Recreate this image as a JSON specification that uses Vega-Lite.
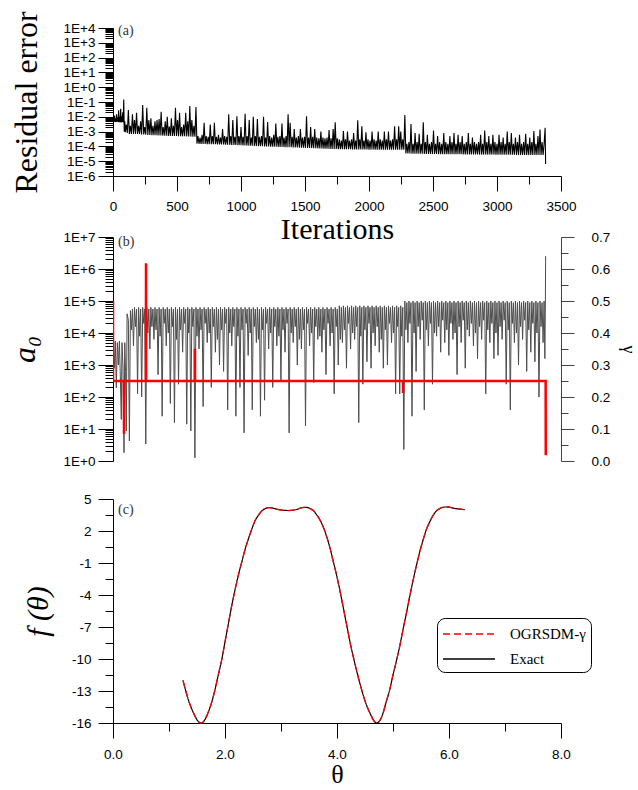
{
"$schema":"https://vega.github.io/schema/vega-lite/v6.json",
"padding":{"left":8,"top":10,"right":6,"bottom":2},
"background":"white",
"config":{"view":{"stroke":null},
"axis":{"grid":false,"labelFont":"Liberation Sans","labelFontSize":13.5,"labelColor":"black","titleFont":"Liberation Serif","titleFontWeight":"normal","titleColor":"black","domainColor":"black","tickColor":"black","labelOverlap":false,"labelFlush":false},
"title":{"font":"Liberation Serif","fontSize":14,"fontWeight":"normal","color":"#333","anchor":"start","orient":"top","frame":"group"}},
"spacing":38,"bounds":"flush",
"vconcat":[
{"width":448,"height":171,
"title":{"text":"(a)","offset":-27,"dx":5},
"data":{"values":[
{"i":0,"r":1e4},{"i":4,"r":1e-2},{"i":8,"r":4.6e-3},{"i":12,"r":1.2e-2},{"i":16,"r":4.5e-3},{"i":20,"r":8e-3},{"i":24,"r":4.4e-3},{"i":28,"r":1.5e-2},{"i":32,"r":4.6e-3},{"i":36,"r":9e-3},{"i":40,"r":4.5e-3},{"i":44,"r":2.8e-2},{"i":48,"r":4.3e-3},{"i":52,"r":1e-2},{"i":56,"r":4.4e-3},{"i":60,"r":3.5e-2},{"i":64,"r":4.2e-3},{"i":68,"r":1.1e-2},{"i":72,"r":4.4e-3},{"i":76,"r":2e-2},{"i":80,"r":4.2e-3},{"i":84,"r":1.5e-1},{"i":88,"r":1e-3},{"i":92,"r":5e-3},{"i":96,"r":9e-4},
{"i":104,"r":3e-3},{"i":112,"r":8e-4},{"i":120,"r":2.9e-2},{"i":128,"r":7e-4},{"i":136,"r":2.5e-3},{"i":144,"r":7e-4},{"i":152,"r":1.5e-2},{"i":160,"r":7e-4},{"i":168,"r":6e-3},{"i":176,"r":7e-4},{"i":184,"r":1.9e-2},{"i":192,"r":7e-4},{"i":200,"r":2.5e-3},{"i":208,"r":6.8e-4},{"i":216,"r":5e-3},{"i":224,"r":6.5e-4},{"i":232,"r":6.3e-2},{"i":240,"r":6.5e-4},{"i":248,"r":2e-3},{"i":256,"r":6.3e-4},{"i":264,"r":4e-2},{"i":272,"r":6e-4},{"i":280,"r":6e-3},{"i":288,"r":6e-4},{"i":296,"r":8e-3},{"i":304,"r":5.8e-4},{"i":312,"r":2.5e-3},{"i":320,"r":5.7e-4},{"i":328,"r":5e-3},{"i":336,"r":5.6e-4},{"i":344,"r":6e-3},{"i":352,"r":5.5e-4},{"i":360,"r":7e-3},{"i":368,"r":5.5e-4},{"i":376,"r":2.2e-2},{"i":384,"r":5.4e-4},{"i":392,"r":2e-3},{"i":400,"r":5.3e-4},{"i":408,"r":5e-3},{"i":416,"r":5.2e-4},{"i":424,"r":1e-2},{"i":432,"r":5.1e-4},{"i":440,"r":2.2e-3},{"i":448,"r":5e-4},{"i":456,"r":8e-3},{"i":464,"r":5e-4},{"i":472,"r":2.5e-3},{"i":480,"r":5e-4},{"i":488,"r":4e-2},{"i":496,"r":5e-4},{"i":504,"r":6e-3},{"i":512,"r":4.9e-4},{"i":520,"r":1.9e-2},{"i":528,"r":4.9e-4},{"i":536,"r":2e-3},{"i":544,"r":4.8e-4},{"i":552,"r":3e-3},{"i":560,"r":4.8e-4},{"i":568,"r":1.9e-2},{"i":576,"r":4.7e-4},{"i":584,"r":5e-3},{"i":592,"r":4.7e-4},{"i":600,"r":5.4e-2},{"i":608,"r":4.6e-4},{"i":616,"r":6e-3},{"i":624,"r":4.6e-4},{"i":632,"r":2.5e-3},{"i":640,"r":4.5e-4},{"i":648,"r":4.6e-2},{"i":656,"r":1.5e-4},
{"i":664,"r":5e-4},{"i":672,"r":1.5e-4},{"i":680,"r":4e-4},{"i":688,"r":1.48e-4},{"i":696,"r":6e-4},{"i":704,"r":1.46e-4},{"i":712,"r":4e-3},{"i":720,"r":1.45e-4},{"i":728,"r":5e-4},{"i":736,"r":1.44e-4},{"i":744,"r":4.5e-4},{"i":752,"r":1.43e-4},{"i":760,"r":3e-3},{"i":768,"r":1.42e-4},{"i":776,"r":5e-4},{"i":784,"r":1.41e-4},{"i":792,"r":4e-3},{"i":800,"r":1.4e-4},{"i":808,"r":4.5e-4},{"i":816,"r":1.38e-4},{"i":824,"r":6e-4},{"i":832,"r":1.36e-4},{"i":840,"r":4e-4},{"i":848,"r":1.35e-4},{"i":856,"r":1.5e-3},{"i":864,"r":1.33e-4},{"i":872,"r":5e-4},{"i":880,"r":1.32e-4},{"i":888,"r":4.5e-4},{"i":896,"r":1.3e-4},{"i":904,"r":1.5e-2},{"i":912,"r":1.28e-4},{"i":920,"r":5e-4},{"i":928,"r":1.27e-4},{"i":936,"r":6e-3},{"i":944,"r":1.25e-4},{"i":952,"r":4.5e-4},{"i":960,"r":1.24e-4},{"i":968,"r":1.1e-2},{"i":976,"r":1.22e-4},{"i":984,"r":5e-4},{"i":992,"r":1.2e-4},{"i":1000,"r":2e-3},{"i":1008,"r":1.18e-4},{"i":1016,"r":4.5e-4},{"i":1024,"r":1.16e-4},{"i":1032,"r":1.6e-2},{"i":1040,"r":1.15e-4},{"i":1048,"r":5e-4},{"i":1056,"r":1.13e-4},{"i":1064,"r":6e-3},{"i":1072,"r":1.12e-4},{"i":1080,"r":4e-4},{"i":1088,"r":1.1e-4},{"i":1096,"r":1e-2},{"i":1104,"r":1.08e-4},{"i":1112,"r":5e-4},{"i":1120,"r":1.07e-4},{"i":1128,"r":7e-3},{"i":1136,"r":1.05e-4},{"i":1144,"r":4.5e-4},{"i":1152,"r":1.04e-4},{"i":1160,"r":5e-4},{"i":1168,"r":1.02e-4},{"i":1176,"r":1e-2},{"i":1184,"r":1e-4},{"i":1192,"r":4e-4},{"i":1200,"r":9.9e-5},{"i":1208,"r":4.5e-3},{"i":1216,"r":9.8e-5},{"i":1224,"r":5e-4},{"i":1232,"r":9.7e-5},{"i":1240,"r":4e-4},{"i":1248,"r":9.6e-5},{"i":1256,"r":6e-4},{"i":1264,"r":9.5e-5},{"i":1272,"r":3.5e-3},{"i":1280,"r":9.4e-5},{"i":1288,"r":4.5e-4},{"i":1296,"r":9.3e-5},{"i":1304,"r":5e-4},{"i":1312,"r":9.2e-5},{"i":1320,"r":3.5e-3},{"i":1328,"r":9.1e-5},{"i":1336,"r":4e-4},{"i":1344,"r":9e-5},{"i":1352,"r":5e-4},{"i":1360,"r":8.9e-5},{"i":1368,"r":1.5e-2},{"i":1376,"r":8.8e-5},{"i":1384,"r":4e-3},{"i":1392,"r":8.7e-5},{"i":1400,"r":4.5e-4},{"i":1408,"r":8.6e-5},{"i":1416,"r":1.5e-3},{"i":1424,"r":8.5e-5},{"i":1432,"r":4e-4},{"i":1440,"r":8.4e-5},{"i":1448,"r":5e-4},{"i":1456,"r":8.3e-5},{"i":1464,"r":1.5e-3},{"i":1472,"r":8.2e-5},{"i":1480,"r":4e-4},{"i":1488,"r":8.1e-5},{"i":1496,"r":4.5e-4},{"i":1504,"r":8e-5},{"i":1512,"r":1.1e-2},{"i":1520,"r":7.9e-5},{"i":1528,"r":4e-4},{"i":1536,"r":7.8e-5},{"i":1544,"r":2e-3},{"i":1552,"r":7.7e-5},{"i":1560,"r":4.5e-4},{"i":1568,"r":7.6e-5},{"i":1576,"r":1.5e-3},{"i":1584,"r":7.5e-5},{"i":1592,"r":4e-4},{"i":1600,"r":7.4e-5},{"i":1608,"r":3.5e-4},{"i":1616,"r":7.3e-5},{"i":1624,"r":1e-3},{"i":1632,"r":7.2e-5},{"i":1640,"r":4e-4},{"i":1648,"r":7.1e-5},{"i":1656,"r":3.5e-4},{"i":1664,"r":7e-5},{"i":1672,"r":4e-4},{"i":1680,"r":6.9e-5},{"i":1688,"r":1.3e-3},{"i":1696,"r":6.8e-5},{"i":1704,"r":3.5e-4},{"i":1712,"r":6.7e-5},{"i":1720,"r":1.5e-3},{"i":1728,"r":6.6e-5},{"i":1736,"r":4.2e-3},{"i":1744,"r":6.6e-5},{"i":1752,"r":3.5e-4},{"i":1760,"r":6.5e-5},
{"i":1768,"r":3e-4},{"i":1776,"r":6.5e-5},{"i":1784,"r":2.5e-4},{"i":1792,"r":6.5e-5},{"i":1800,"r":1.1e-3},{"i":1808,"r":6.4e-5},{"i":1816,"r":3e-4},{"i":1824,"r":6.4e-5},{"i":1832,"r":1e-3},{"i":1840,"r":6.4e-5},{"i":1848,"r":2.5e-4},{"i":1856,"r":6.4e-5},{"i":1864,"r":3e-4},{"i":1872,"r":6.3e-5},{"i":1880,"r":8e-4},{"i":1888,"r":6.3e-5},{"i":1896,"r":2.5e-4},{"i":1904,"r":6.3e-5},{"i":1912,"r":5.8e-3},{"i":1920,"r":6.3e-5},{"i":1928,"r":3e-4},{"i":1936,"r":6.2e-5},{"i":1944,"r":2.3e-3},{"i":1952,"r":6.2e-5},{"i":1960,"r":2.5e-4},{"i":1968,"r":6.2e-5},{"i":1976,"r":9e-4},{"i":1984,"r":6.2e-5},{"i":1992,"r":3e-4},{"i":2000,"r":6.1e-5},{"i":2008,"r":2.5e-4},{"i":2016,"r":6.1e-5},{"i":2024,"r":1e-3},{"i":2032,"r":6.1e-5},{"i":2040,"r":3e-4},{"i":2048,"r":6.1e-5},{"i":2056,"r":2.5e-4},{"i":2064,"r":6e-5},{"i":2072,"r":1e-3},{"i":2080,"r":6e-5},{"i":2088,"r":3e-4},{"i":2096,"r":6e-5},{"i":2104,"r":2.5e-4},{"i":2112,"r":6e-5},{"i":2120,"r":1e-3},{"i":2128,"r":6e-5},{"i":2136,"r":3e-4},{"i":2144,"r":6e-5},{"i":2152,"r":1e-3},{"i":2160,"r":6e-5},{"i":2168,"r":2.5e-4},{"i":2176,"r":6e-5},{"i":2184,"r":3e-4},{"i":2192,"r":6e-5},{"i":2200,"r":2.3e-3},{"i":2208,"r":6e-5},{"i":2216,"r":3e-4},{"i":2224,"r":6e-5},{"i":2232,"r":2.3e-3},{"i":2240,"r":6e-5},{"i":2248,"r":1e-3},{"i":2256,"r":6e-5},{"i":2264,"r":3e-4},{"i":2272,"r":6e-5},{"i":2280,"r":1.3e-2},{"i":2288,"r":3.3e-5},
{"i":2296,"r":1.5e-4},{"i":2304,"r":3.3e-5},{"i":2312,"r":2e-4},{"i":2320,"r":3.3e-5},{"i":2328,"r":3.2e-3},{"i":2336,"r":3.2e-5},{"i":2344,"r":1.5e-4},{"i":2352,"r":3.2e-5},{"i":2360,"r":8e-4},{"i":2368,"r":3.2e-5},{"i":2376,"r":2e-4},{"i":2384,"r":3.2e-5},{"i":2392,"r":7e-4},{"i":2400,"r":3.2e-5},{"i":2408,"r":1.5e-4},{"i":2416,"r":3.2e-5},{"i":2424,"r":4.2e-3},{"i":2432,"r":3.1e-5},{"i":2440,"r":2e-4},{"i":2448,"r":3.1e-5},{"i":2456,"r":6e-4},{"i":2464,"r":3.1e-5},{"i":2472,"r":1.5e-4},{"i":2480,"r":3.1e-5},{"i":2488,"r":2e-4},{"i":2496,"r":3.1e-5},{"i":2504,"r":1.2e-3},{"i":2512,"r":3.1e-5},{"i":2520,"r":1.5e-4},{"i":2528,"r":3.1e-5},{"i":2536,"r":5e-4},{"i":2544,"r":3e-5},{"i":2552,"r":2e-4},{"i":2560,"r":3e-5},{"i":2568,"r":1.5e-4},{"i":2576,"r":3e-5},{"i":2584,"r":8e-4},{"i":2592,"r":3e-5},{"i":2600,"r":2e-4},{"i":2608,"r":3e-5},{"i":2616,"r":1.5e-4},{"i":2624,"r":3e-5},{"i":2632,"r":5e-4},{"i":2640,"r":3e-5},{"i":2648,"r":2e-4},{"i":2656,"r":3e-5},{"i":2664,"r":8e-4},{"i":2672,"r":3e-5},{"i":2680,"r":1.5e-4},{"i":2688,"r":3e-5},{"i":2696,"r":6e-4},{"i":2704,"r":3e-5},{"i":2712,"r":2e-4},{"i":2720,"r":3e-5},{"i":2728,"r":5e-4},{"i":2736,"r":2.9e-5},{"i":2744,"r":1.5e-4},{"i":2752,"r":2.9e-5},{"i":2760,"r":2e-4},{"i":2768,"r":2.9e-5},{"i":2776,"r":8e-4},{"i":2784,"r":2.9e-5},{"i":2792,"r":1.5e-4},{"i":2800,"r":2.9e-5},{"i":2808,"r":4e-4},{"i":2816,"r":2.9e-5},{"i":2824,"r":2e-4},{"i":2832,"r":2.9e-5},{"i":2840,"r":1.5e-4},{"i":2848,"r":2.9e-5},{"i":2856,"r":2e-4},{"i":2864,"r":2.8e-5},{"i":2872,"r":6e-4},{"i":2880,"r":2.8e-5},{"i":2888,"r":1.5e-4},{"i":2896,"r":2.8e-5},{"i":2904,"r":1.2e-3},{"i":2912,"r":2.8e-5},{"i":2920,"r":2e-4},{"i":2928,"r":2.8e-5},{"i":2936,"r":5e-4},{"i":2944,"r":2.8e-5},{"i":2952,"r":1.5e-4},{"i":2960,"r":2.8e-5},{"i":2968,"r":6e-4},{"i":2976,"r":2.8e-5},{"i":2984,"r":2e-4},{"i":2992,"r":2.7e-5},{"i":3000,"r":1.5e-4},{"i":3008,"r":2.7e-5},{"i":3016,"r":6e-4},{"i":3024,"r":2.7e-5},{"i":3032,"r":2e-4},{"i":3040,"r":2.7e-5},{"i":3048,"r":4e-4},{"i":3056,"r":2.7e-5},{"i":3064,"r":1.5e-4},{"i":3072,"r":2.7e-5},{"i":3080,"r":1e-3},{"i":3088,"r":2.7e-5},{"i":3096,"r":2e-4},{"i":3104,"r":2.7e-5},{"i":3112,"r":8e-4},{"i":3120,"r":2.7e-5},{"i":3128,"r":1.5e-4},{"i":3136,"r":2.7e-5},{"i":3144,"r":4e-4},{"i":3152,"r":2.6e-5},{"i":3160,"r":2e-4},{"i":3168,"r":2.6e-5},{"i":3176,"r":6e-4},{"i":3184,"r":2.6e-5},{"i":3192,"r":1.5e-4},{"i":3200,"r":2.6e-5},{"i":3208,"r":2e-4},{"i":3216,"r":2.6e-5},{"i":3224,"r":7e-4},{"i":3232,"r":2.6e-5},{"i":3240,"r":1.5e-4},{"i":3248,"r":2.6e-5},{"i":3256,"r":4e-4},{"i":3264,"r":2.6e-5},{"i":3272,"r":2e-4},{"i":3280,"r":2.6e-5},{"i":3288,"r":1.1e-3},{"i":3296,"r":2.6e-5},{"i":3304,"r":1.5e-4},{"i":3312,"r":2.6e-5},{"i":3320,"r":5e-4},{"i":3328,"r":2.6e-5},{"i":3336,"r":1.4e-3},{"i":3344,"r":2.6e-5},{"i":3352,"r":2e-4},{"i":3360,"r":2.6e-5},{"i":3368,"r":1.5e-4},{"i":3376,"r":1.8e-3},{"i":3380,"r":6.5e-6}
]},
"mark":{"type":"line","color":"black","strokeWidth":1.1,"clip":true},
"encoding":{
"x":{"field":"i","type":"quantitative","scale":{"domain":[0,3500],"nice":false,"zero":false},
"axis":{"offset":-23,"values":[0,250,500,750,1000,1250,1500,1750,2000,2250,2500,2750,3000,3250,3500],"labelExpr":"datum.value % 500 == 0 ? '' + datum.value : ''","tickSize":{"condition":{"test":"datum.value % 500 == 0","value":15},"value":8},"labelPadding":8,"title":"Iterations","titleFontSize":30,"titlePadding":2}},
"y":{"field":"r","type":"quantitative","scale":{"type":"log","domain":[1e-6,1e4],"nice":false,"range":[148,0]},
"axis":{"values":[1e-6,2e-6,3e-6,4e-6,5e-6,6e-6,7e-6,8e-6,9e-6,1e-5,2e-5,3e-5,4e-5,5e-5,6e-5,7e-5,8e-5,9e-5,1e-4,2e-4,3e-4,4e-4,5e-4,6e-4,7e-4,8e-4,9e-4,1e-3,2e-3,3e-3,4e-3,5e-3,6e-3,7e-3,8e-3,9e-3,0.01,0.02,0.03,0.04,0.05,0.06,0.07,0.08,0.09,0.1,0.2,0.3,0.4,0.5,0.6,0.7,0.8,0.9,1,2,3,4,5,6,7,8,9,10,20,30,40,50,60,70,80,90,100,200,300,400,500,600,700,800,900,1000,2000,3000,4000,5000,6000,7000,8000,9000,10000],
"labelExpr":"abs(log(datum.value)/LN10 - round(log(datum.value)/LN10)) < 0.001 ? '1E' + (datum.value >= 1 ? '+' : '') + round(log(datum.value)/LN10) : ''",
"tickSize":{"condition":{"test":"abs(log(datum.value)/LN10 - round(log(datum.value)/LN10)) < 0.001","value":15},"value":8},
"labelPadding":3,"title":"Residual error","titleFontSize":32,"titlePadding":20,"titleY":74}}
}},
{"width":448,"height":224,
"title":{"text":"(b)","offset":-19,"dx":5},
"layer":[
{"data":{"values":[
{"i":2,"g":0.375},{"i":10,"g":0.29},{"i":18,"g":0.375},{"i":26,"g":0.229},{"i":34,"g":0.37},{"i":42,"g":0.30},{"i":50,"g":0.375},{"i":58,"g":0.25},{"i":65,"g":0.13},{"i":70,"g":0.37},{"i":78,"g":0.30},{"i":86,"g":0.026},{"i":92,"g":0.37},{"i":98,"g":0.28},{"i":104,"g":0.094},{"i":110,"g":0.46},{"i":120,"g":0.44},
{"i":128,"g":0.0625},{"i":136,"g":0.47},{"i":144,"g":0.41},{"i":152,"g":0.475},{"i":160,"g":0.36},{"i":168,"g":0.48},{"i":176,"g":0.42},{"i":184,"g":0.475},{"i":192,"g":0.21},{"i":200,"g":0.48},{"i":208,"g":0.39},{"i":216,"g":0.475},{"i":224,"g":0.20},{"i":232,"g":0.48},{"i":240,"g":0.43},{"i":248,"g":0.475},{"i":256,"g":0.053},{"i":264,"g":0.48},{"i":272,"g":0.40},{"i":280,"g":0.475},{"i":288,"g":0.35},{"i":296,"g":0.48},{"i":304,"g":0.42},{"i":312,"g":0.475},{"i":320,"g":0.38},{"i":328,"g":0.48},{"i":336,"g":0.41},{"i":344,"g":0.475},{"i":352,"g":0.27},{"i":360,"g":0.48},{"i":368,"g":0.39},{"i":376,"g":0.475},{"i":384,"g":0.14},{"i":392,"g":0.48},{"i":400,"g":0.43},{"i":408,"g":0.475},{"i":416,"g":0.36},{"i":424,"g":0.48},{"i":432,"g":0.40},{"i":440,"g":0.475},{"i":448,"g":0.18},{"i":456,"g":0.48},{"i":464,"g":0.42},{"i":472,"g":0.475},{"i":480,"g":0.12},{"i":488,"g":0.48},{"i":496,"g":0.38},{"i":504,"g":0.475},{"i":512,"g":0.24},{"i":520,"g":0.48},{"i":528,"g":0.41},{"i":536,"g":0.475},{"i":544,"g":0.34},{"i":552,"g":0.48},{"i":560,"g":0.43},{"i":568,"g":0.475},{"i":576,"g":0.115},{"i":584,"g":0.48},{"i":592,"g":0.40},{"i":600,"g":0.475},{"i":608,"g":0.094},{"i":616,"g":0.48},{"i":624,"g":0.42},{"i":632,"g":0.475},{"i":640,"g":0.01},{"i":648,"g":0.48},{"i":656,"g":0.39},{"i":664,"g":0.475},{"i":672,"g":0.35},{"i":680,"g":0.48},{"i":688,"g":0.41},{"i":696,"g":0.475},{"i":704,"g":0.17},{"i":712,"g":0.48},{"i":720,"g":0.43},{"i":728,"g":0.475},{"i":736,"g":0.37},{"i":744,"g":0.48},{"i":752,"g":0.40},{"i":760,"g":0.475},{"i":768,"g":0.23},{"i":776,"g":0.48},{"i":784,"g":0.42},{"i":792,"g":0.475},{"i":800,"g":0.34},{"i":808,"g":0.48},{"i":816,"g":0.38},{"i":824,"g":0.475},{"i":832,"g":0.30},{"i":840,"g":0.48},{"i":848,"g":0.41},{"i":856,"g":0.475},{"i":864,"g":0.28},{"i":872,"g":0.48},{"i":880,"g":0.43},{"i":888,"g":0.475},{"i":896,"g":0.16},{"i":904,"g":0.48},{"i":912,"g":0.40},{"i":920,"g":0.475},{"i":928,"g":0.36},{"i":936,"g":0.48},{"i":944,"g":0.42},{"i":952,"g":0.475},{"i":960,"g":0.14},{"i":968,"g":0.48},{"i":976,"g":0.39},{"i":984,"g":0.475},{"i":992,"g":0.23},{"i":1000,"g":0.48},{"i":1008,"g":0.41},{"i":1016,"g":0.475},{"i":1024,"g":0.088},{"i":1032,"g":0.48},{"i":1040,"g":0.43},{"i":1048,"g":0.475},{"i":1056,"g":0.33},{"i":1064,"g":0.48},{"i":1072,"g":0.40},{"i":1080,"g":0.475},{"i":1088,"g":0.16},{"i":1096,"g":0.48},{"i":1104,"g":0.42},{"i":1112,"g":0.475},{"i":1120,"g":0.37},{"i":1128,"g":0.48},{"i":1136,"g":0.38},{"i":1144,"g":0.475},{"i":1152,"g":0.14},{"i":1160,"g":0.48},{"i":1168,"g":0.41},{"i":1176,"g":0.475},{"i":1184,"g":0.19},{"i":1192,"g":0.48},{"i":1200,"g":0.43},{"i":1208,"g":0.475},{"i":1216,"g":0.35},{"i":1224,"g":0.48},{"i":1232,"g":0.40},{"i":1240,"g":0.475},{"i":1248,"g":0.23},{"i":1256,"g":0.48},{"i":1264,"g":0.42},{"i":1272,"g":0.475},{"i":1280,"g":0.36},{"i":1288,"g":0.48},{"i":1296,"g":0.39},{"i":1304,"g":0.475},{"i":1312,"g":0.25},{"i":1320,"g":0.48},{"i":1328,"g":0.41},{"i":1336,"g":0.475},{"i":1344,"g":0.34},{"i":1352,"g":0.48},{"i":1360,"g":0.43},{"i":1368,"g":0.475},{"i":1376,"g":0.088},{"i":1384,"g":0.48},{"i":1392,"g":0.40},{"i":1400,"g":0.475},{"i":1408,"g":0.37},{"i":1416,"g":0.48},{"i":1424,"g":0.42},{"i":1432,"g":0.475},{"i":1440,"g":0.30},{"i":1448,"g":0.48},{"i":1456,"g":0.38},{"i":1464,"g":0.475},{"i":1472,"g":0.35},{"i":1480,"g":0.48},{"i":1488,"g":0.41},{"i":1496,"g":0.475},{"i":1504,"g":0.11},{"i":1512,"g":0.48},{"i":1520,"g":0.43},{"i":1528,"g":0.475},{"i":1536,"g":0.36},{"i":1544,"g":0.48},{"i":1552,"g":0.40},{"i":1560,"g":0.475},{"i":1568,"g":0.245},{"i":1576,"g":0.48},{"i":1584,"g":0.42},{"i":1592,"g":0.475},{"i":1600,"g":0.38},{"i":1608,"g":0.48},{"i":1616,"g":0.39},{"i":1624,"g":0.475},{"i":1632,"g":0.34},{"i":1640,"g":0.48},{"i":1648,"g":0.41},{"i":1656,"g":0.475},{"i":1664,"g":0.27},{"i":1672,"g":0.48},{"i":1680,"g":0.43},{"i":1688,"g":0.475},{"i":1696,"g":0.36},{"i":1704,"g":0.48},{"i":1712,"g":0.40},{"i":1720,"g":0.475},{"i":1728,"g":0.21},{"i":1736,"g":0.48},{"i":1744,"g":0.42},{"i":1752,"g":0.475},
{"i":1760,"g":0.30},{"i":1768,"g":0.485},{"i":1776,"g":0.38},{"i":1784,"g":0.48},{"i":1792,"g":0.37},{"i":1800,"g":0.485},{"i":1808,"g":0.41},{"i":1816,"g":0.48},{"i":1824,"g":0.29},{"i":1832,"g":0.485},{"i":1840,"g":0.43},{"i":1848,"g":0.48},{"i":1856,"g":0.35},{"i":1864,"g":0.485},{"i":1872,"g":0.40},{"i":1880,"g":0.48},{"i":1888,"g":0.38},{"i":1896,"g":0.485},{"i":1904,"g":0.42},{"i":1912,"g":0.48},{"i":1920,"g":0.12},{"i":1928,"g":0.485},{"i":1936,"g":0.39},{"i":1944,"g":0.48},{"i":1952,"g":0.24},{"i":1960,"g":0.485},{"i":1968,"g":0.41},{"i":1976,"g":0.48},{"i":1984,"g":0.31},{"i":1992,"g":0.485},{"i":2000,"g":0.43},{"i":2008,"g":0.48},{"i":2016,"g":0.29},{"i":2024,"g":0.485},{"i":2032,"g":0.40},{"i":2040,"g":0.48},{"i":2048,"g":0.36},{"i":2056,"g":0.485},{"i":2064,"g":0.42},{"i":2072,"g":0.48},{"i":2080,"g":0.34},{"i":2088,"g":0.485},{"i":2096,"g":0.38},{"i":2104,"g":0.48},{"i":2112,"g":0.29},{"i":2120,"g":0.485},{"i":2128,"g":0.41},{"i":2136,"g":0.48},{"i":2144,"g":0.30},{"i":2152,"g":0.485},{"i":2160,"g":0.43},{"i":2168,"g":0.48},{"i":2176,"g":0.37},{"i":2184,"g":0.485},{"i":2192,"g":0.40},{"i":2200,"g":0.48},{"i":2208,"g":0.21},{"i":2216,"g":0.485},{"i":2224,"g":0.42},{"i":2232,"g":0.48},{"i":2240,"g":0.21},{"i":2248,"g":0.485},{"i":2256,"g":0.39},{"i":2264,"g":0.48},
{"i":2272,"g":0.036},{"i":2280,"g":0.50},{"i":2288,"g":0.41},{"i":2296,"g":0.495},{"i":2304,"g":0.37},{"i":2312,"g":0.50},{"i":2320,"g":0.43},{"i":2328,"g":0.495},{"i":2336,"g":0.14},{"i":2344,"g":0.50},{"i":2352,"g":0.40},{"i":2360,"g":0.495},{"i":2368,"g":0.28},{"i":2376,"g":0.50},{"i":2384,"g":0.42},{"i":2392,"g":0.495},{"i":2400,"g":0.38},{"i":2408,"g":0.50},{"i":2416,"g":0.44},{"i":2424,"g":0.495},{"i":2432,"g":0.16},{"i":2440,"g":0.50},{"i":2448,"g":0.41},{"i":2456,"g":0.495},{"i":2464,"g":0.36},{"i":2472,"g":0.50},{"i":2480,"g":0.43},{"i":2488,"g":0.495},{"i":2496,"g":0.24},{"i":2504,"g":0.50},{"i":2512,"g":0.40},{"i":2520,"g":0.495},{"i":2528,"g":0.39},{"i":2536,"g":0.50},{"i":2544,"g":0.42},{"i":2552,"g":0.495},{"i":2560,"g":0.34},{"i":2568,"g":0.50},{"i":2576,"g":0.44},{"i":2584,"g":0.495},{"i":2592,"g":0.37},{"i":2600,"g":0.50},{"i":2608,"g":0.41},{"i":2616,"g":0.495},{"i":2624,"g":0.33},{"i":2632,"g":0.50},{"i":2640,"g":0.43},{"i":2648,"g":0.495},{"i":2656,"g":0.38},{"i":2664,"g":0.50},{"i":2672,"g":0.40},{"i":2680,"g":0.495},{"i":2688,"g":0.27},{"i":2696,"g":0.50},{"i":2704,"g":0.42},{"i":2712,"g":0.495},{"i":2720,"g":0.37},{"i":2728,"g":0.50},{"i":2736,"g":0.44},{"i":2744,"g":0.495},{"i":2752,"g":0.29},{"i":2760,"g":0.50},{"i":2768,"g":0.41},{"i":2776,"g":0.495},{"i":2784,"g":0.39},{"i":2792,"g":0.50},{"i":2800,"g":0.43},{"i":2808,"g":0.495},{"i":2816,"g":0.36},{"i":2824,"g":0.50},{"i":2832,"g":0.40},{"i":2840,"g":0.495},{"i":2848,"g":0.32},{"i":2856,"g":0.50},{"i":2864,"g":0.42},{"i":2872,"g":0.495},{"i":2880,"g":0.38},{"i":2888,"g":0.50},{"i":2896,"g":0.44},{"i":2904,"g":0.495},{"i":2912,"g":0.21},{"i":2920,"g":0.50},{"i":2928,"g":0.41},{"i":2936,"g":0.495},{"i":2944,"g":0.37},{"i":2952,"g":0.50},{"i":2960,"g":0.43},{"i":2968,"g":0.495},{"i":2976,"g":0.32},{"i":2984,"g":0.50},{"i":2992,"g":0.40},{"i":3000,"g":0.495},{"i":3008,"g":0.33},{"i":3016,"g":0.50},{"i":3024,"g":0.42},{"i":3032,"g":0.495},{"i":3040,"g":0.38},{"i":3048,"g":0.50},{"i":3056,"g":0.44},{"i":3064,"g":0.495},{"i":3072,"g":0.24},{"i":3080,"g":0.50},{"i":3088,"g":0.41},{"i":3096,"g":0.495},{"i":3104,"g":0.16},{"i":3112,"g":0.50},{"i":3120,"g":0.43},{"i":3128,"g":0.495},{"i":3136,"g":0.37},{"i":3144,"g":0.50},{"i":3152,"g":0.40},{"i":3160,"g":0.495},{"i":3168,"g":0.30},{"i":3176,"g":0.50},{"i":3184,"g":0.42},{"i":3192,"g":0.495},{"i":3200,"g":0.38},{"i":3208,"g":0.50},{"i":3216,"g":0.44},{"i":3224,"g":0.495},{"i":3232,"g":0.28},{"i":3240,"g":0.50},{"i":3248,"g":0.41},{"i":3256,"g":0.495},{"i":3264,"g":0.34},{"i":3272,"g":0.50},{"i":3280,"g":0.43},{"i":3288,"g":0.495},{"i":3296,"g":0.31},{"i":3304,"g":0.50},{"i":3312,"g":0.40},{"i":3320,"g":0.495},{"i":3328,"g":0.20},{"i":3336,"g":0.50},{"i":3344,"g":0.42},{"i":3352,"g":0.495},{"i":3360,"g":0.37},{"i":3368,"g":0.50},{"i":3374,"g":0.32},{"i":3378,"g":0.50},{"i":3380,"g":0.64}
]},
"mark":{"type":"line","color":"#4d4d4d","strokeWidth":1,"clip":true},
"encoding":{
"x":{"field":"i","type":"quantitative","scale":{"domain":[0,3500],"nice":false,"zero":false},"axis":null},
"y":{"field":"g","type":"quantitative","scale":{"domain":[0,0.7],"nice":false},
"axis":{"orient":"right","values":[0,0.05,0.1,0.15,0.2,0.25,0.3,0.35,0.4,0.45,0.5,0.55,0.6,0.65,0.7],"labelExpr":"abs(datum.value*10 - round(datum.value*10)) < 0.01 ? format(datum.value, '.1f') : ''","tickSize":{"condition":{"test":"abs(datum.value*10 - round(datum.value*10)) < 0.01","value":13},"value":7},"labelPadding":17,"domainColor":"#444","tickColor":"#444","title":"γ","titleFontSize":18,"titlePadding":9}}
}},
{"data":{"values":[
{"i":0,"a":1e5},{"i":0.5,"a":316},{"i":85,"a":316},{"i":86,"a":7},{"i":87,"a":316},{"i":257,"a":316},{"i":258,"a":1.5e6},{"i":259,"a":316},{"i":639,"a":316},{"i":640,"a":3200},{"i":641,"a":316},{"i":2265,"a":316},{"i":2266,"a":133},{"i":2267,"a":316},{"i":3380,"a":316},{"i":3381,"a":1.5}
]},
"mark":{"type":"line","color":"#ff0000","strokeWidth":2.5,"clip":true},
"encoding":{
"x":{"field":"i","type":"quantitative","scale":{"domain":[0,3500],"nice":false,"zero":false},"axis":null},
"y":{"field":"a","type":"quantitative","scale":{"type":"log","domain":[1,1e7],"nice":false},
"axis":{"orient":"left","values":[1,2,3,4,5,6,7,8,9,10,20,30,40,50,60,70,80,90,100,200,300,400,500,600,700,800,900,1000,2000,3000,4000,5000,6000,7000,8000,9000,10000,20000,30000,40000,50000,60000,70000,80000,90000,100000,200000,300000,400000,500000,600000,700000,800000,900000,1000000,2000000,3000000,4000000,5000000,6000000,7000000,8000000,9000000,10000000],
"labelExpr":"abs(log(datum.value)/LN10 - round(log(datum.value)/LN10)) < 0.001 ? '1E+' + round(log(datum.value)/LN10) : ''",
"tickSize":{"condition":{"test":"abs(log(datum.value)/LN10 - round(log(datum.value)/LN10)) < 0.001","value":15},"value":8},
"labelPadding":3,"title":"a₀","titleFontStyle":"italic","titleFontSize":32,"titlePadding":22}}
}}
],
"resolve":{"scale":{"y":"independent"}}
},
{"width":448,"height":224,
"title":{"text":"(c)","offset":-25,"dx":5},
"data":{"values":[
{"t":1.25,"f":-12.0,"s":"Exact"},{"t":1.30,"f":-13.0,"s":"Exact"},{"t":1.35,"f":-13.9,"s":"Exact"},{"t":1.40,"f":-14.6,"s":"Exact"},{"t":1.45,"f":-15.2,"s":"Exact"},{"t":1.50,"f":-15.7,"s":"Exact"},{"t":1.57,"f":-16.0,"s":"Exact"},{"t":1.64,"f":-15.7,"s":"Exact"},{"t":1.70,"f":-15.0,"s":"Exact"},{"t":1.76,"f":-14.1,"s":"Exact"},{"t":1.82,"f":-12.9,"s":"Exact"},{"t":1.88,"f":-11.5,"s":"Exact"},{"t":1.94,"f":-10.1,"s":"Exact"},{"t":2.00,"f":-8.4,"s":"Exact"},{"t":2.06,"f":-6.7,"s":"Exact"},{"t":2.12,"f":-5.0,"s":"Exact"},{"t":2.18,"f":-3.5,"s":"Exact"},{"t":2.24,"f":-2.1,"s":"Exact"},{"t":2.30,"f":-0.9,"s":"Exact"},{"t":2.36,"f":0.3,"s":"Exact"},{"t":2.42,"f":1.3,"s":"Exact"},{"t":2.48,"f":2.2,"s":"Exact"},{"t":2.54,"f":3.0,"s":"Exact"},{"t":2.60,"f":3.5,"s":"Exact"},{"t":2.66,"f":3.9,"s":"Exact"},{"t":2.72,"f":4.1,"s":"Exact"},{"t":2.78,"f":4.2,"s":"Exact"},{"t":2.85,"f":4.15,"s":"Exact"},{"t":2.92,"f":4.05,"s":"Exact"},{"t":3.00,"f":3.97,"s":"Exact"},{"t":3.08,"f":3.93,"s":"Exact"},{"t":3.14,"f":3.92,"s":"Exact"},{"t":3.22,"f":3.95,"s":"Exact"},{"t":3.30,"f":4.05,"s":"Exact"},{"t":3.38,"f":4.2,"s":"Exact"},{"t":3.45,"f":4.22,"s":"Exact"},{"t":3.52,"f":4.1,"s":"Exact"},{"t":3.58,"f":3.9,"s":"Exact"},{"t":3.64,"f":3.5,"s":"Exact"},{"t":3.70,"f":3.0,"s":"Exact"},{"t":3.76,"f":2.3,"s":"Exact"},{"t":3.82,"f":1.4,"s":"Exact"},{"t":3.88,"f":0.3,"s":"Exact"},{"t":3.94,"f":-1.0,"s":"Exact"},{"t":4.00,"f":-2.3,"s":"Exact"},{"t":4.06,"f":-3.8,"s":"Exact"},{"t":4.12,"f":-5.4,"s":"Exact"},{"t":4.18,"f":-7.0,"s":"Exact"},{"t":4.24,"f":-8.6,"s":"Exact"},{"t":4.30,"f":-10.0,"s":"Exact"},{"t":4.36,"f":-11.3,"s":"Exact"},{"t":4.42,"f":-12.5,"s":"Exact"},{"t":4.48,"f":-13.6,"s":"Exact"},{"t":4.54,"f":-14.5,"s":"Exact"},{"t":4.60,"f":-15.2,"s":"Exact"},{"t":4.66,"f":-15.8,"s":"Exact"},{"t":4.71,"f":-16.0,"s":"Exact"},{"t":4.76,"f":-15.8,"s":"Exact"},{"t":4.82,"f":-15.1,"s":"Exact"},{"t":4.88,"f":-14.0,"s":"Exact"},{"t":4.94,"f":-12.9,"s":"Exact"},{"t":5.00,"f":-11.5,"s":"Exact"},{"t":5.06,"f":-10.2,"s":"Exact"},{"t":5.12,"f":-8.8,"s":"Exact"},{"t":5.18,"f":-7.2,"s":"Exact"},{"t":5.24,"f":-5.7,"s":"Exact"},{"t":5.30,"f":-4.1,"s":"Exact"},{"t":5.36,"f":-2.6,"s":"Exact"},{"t":5.42,"f":-1.2,"s":"Exact"},{"t":5.48,"f":0.1,"s":"Exact"},{"t":5.54,"f":1.2,"s":"Exact"},{"t":5.60,"f":2.2,"s":"Exact"},{"t":5.66,"f":2.9,"s":"Exact"},{"t":5.72,"f":3.5,"s":"Exact"},{"t":5.78,"f":3.9,"s":"Exact"},{"t":5.85,"f":4.15,"s":"Exact"},{"t":5.92,"f":4.25,"s":"Exact"},{"t":5.98,"f":4.25,"s":"Exact"},{"t":6.05,"f":4.18,"s":"Exact"},{"t":6.12,"f":4.1,"s":"Exact"},{"t":6.20,"f":4.05,"s":"Exact"},{"t":6.28,"f":4.0,"s":"Exact"},
{"t":1.25,"f":-12.0,"s":"OGRSDM-γ"},{"t":1.30,"f":-13.0,"s":"OGRSDM-γ"},{"t":1.35,"f":-13.9,"s":"OGRSDM-γ"},{"t":1.40,"f":-14.6,"s":"OGRSDM-γ"},{"t":1.45,"f":-15.2,"s":"OGRSDM-γ"},{"t":1.50,"f":-15.7,"s":"OGRSDM-γ"},{"t":1.57,"f":-16.0,"s":"OGRSDM-γ"},{"t":1.64,"f":-15.7,"s":"OGRSDM-γ"},{"t":1.70,"f":-15.0,"s":"OGRSDM-γ"},{"t":1.76,"f":-14.1,"s":"OGRSDM-γ"},{"t":1.82,"f":-12.9,"s":"OGRSDM-γ"},{"t":1.88,"f":-11.5,"s":"OGRSDM-γ"},{"t":1.94,"f":-10.1,"s":"OGRSDM-γ"},{"t":2.00,"f":-8.4,"s":"OGRSDM-γ"},{"t":2.06,"f":-6.7,"s":"OGRSDM-γ"},{"t":2.12,"f":-5.0,"s":"OGRSDM-γ"},{"t":2.18,"f":-3.5,"s":"OGRSDM-γ"},{"t":2.24,"f":-2.1,"s":"OGRSDM-γ"},{"t":2.30,"f":-0.9,"s":"OGRSDM-γ"},{"t":2.36,"f":0.3,"s":"OGRSDM-γ"},{"t":2.42,"f":1.3,"s":"OGRSDM-γ"},{"t":2.48,"f":2.2,"s":"OGRSDM-γ"},{"t":2.54,"f":3.0,"s":"OGRSDM-γ"},{"t":2.60,"f":3.5,"s":"OGRSDM-γ"},{"t":2.66,"f":3.9,"s":"OGRSDM-γ"},{"t":2.72,"f":4.1,"s":"OGRSDM-γ"},{"t":2.78,"f":4.2,"s":"OGRSDM-γ"},{"t":2.85,"f":4.15,"s":"OGRSDM-γ"},{"t":2.92,"f":4.05,"s":"OGRSDM-γ"},{"t":3.00,"f":3.97,"s":"OGRSDM-γ"},{"t":3.08,"f":3.93,"s":"OGRSDM-γ"},{"t":3.14,"f":3.92,"s":"OGRSDM-γ"},{"t":3.22,"f":3.95,"s":"OGRSDM-γ"},{"t":3.30,"f":4.05,"s":"OGRSDM-γ"},{"t":3.38,"f":4.2,"s":"OGRSDM-γ"},{"t":3.45,"f":4.22,"s":"OGRSDM-γ"},{"t":3.52,"f":4.1,"s":"OGRSDM-γ"},{"t":3.58,"f":3.9,"s":"OGRSDM-γ"},{"t":3.64,"f":3.5,"s":"OGRSDM-γ"},{"t":3.70,"f":3.0,"s":"OGRSDM-γ"},{"t":3.76,"f":2.3,"s":"OGRSDM-γ"},{"t":3.82,"f":1.4,"s":"OGRSDM-γ"},{"t":3.88,"f":0.3,"s":"OGRSDM-γ"},{"t":3.94,"f":-1.0,"s":"OGRSDM-γ"},{"t":4.00,"f":-2.3,"s":"OGRSDM-γ"},{"t":4.06,"f":-3.8,"s":"OGRSDM-γ"},{"t":4.12,"f":-5.4,"s":"OGRSDM-γ"},{"t":4.18,"f":-7.0,"s":"OGRSDM-γ"},{"t":4.24,"f":-8.6,"s":"OGRSDM-γ"},{"t":4.30,"f":-10.0,"s":"OGRSDM-γ"},{"t":4.36,"f":-11.3,"s":"OGRSDM-γ"},{"t":4.42,"f":-12.5,"s":"OGRSDM-γ"},{"t":4.48,"f":-13.6,"s":"OGRSDM-γ"},{"t":4.54,"f":-14.5,"s":"OGRSDM-γ"},{"t":4.60,"f":-15.2,"s":"OGRSDM-γ"},{"t":4.66,"f":-15.8,"s":"OGRSDM-γ"},{"t":4.71,"f":-16.0,"s":"OGRSDM-γ"},{"t":4.76,"f":-15.8,"s":"OGRSDM-γ"},{"t":4.82,"f":-15.1,"s":"OGRSDM-γ"},{"t":4.88,"f":-14.0,"s":"OGRSDM-γ"},{"t":4.94,"f":-12.9,"s":"OGRSDM-γ"},{"t":5.00,"f":-11.5,"s":"OGRSDM-γ"},{"t":5.06,"f":-10.2,"s":"OGRSDM-γ"},{"t":5.12,"f":-8.8,"s":"OGRSDM-γ"},{"t":5.18,"f":-7.2,"s":"OGRSDM-γ"},{"t":5.24,"f":-5.7,"s":"OGRSDM-γ"},{"t":5.30,"f":-4.1,"s":"OGRSDM-γ"},{"t":5.36,"f":-2.6,"s":"OGRSDM-γ"},{"t":5.42,"f":-1.2,"s":"OGRSDM-γ"},{"t":5.48,"f":0.1,"s":"OGRSDM-γ"},{"t":5.54,"f":1.2,"s":"OGRSDM-γ"},{"t":5.60,"f":2.2,"s":"OGRSDM-γ"},{"t":5.66,"f":2.9,"s":"OGRSDM-γ"},{"t":5.72,"f":3.5,"s":"OGRSDM-γ"},{"t":5.78,"f":3.9,"s":"OGRSDM-γ"},{"t":5.85,"f":4.15,"s":"OGRSDM-γ"},{"t":5.92,"f":4.25,"s":"OGRSDM-γ"},{"t":5.98,"f":4.25,"s":"OGRSDM-γ"},{"t":6.05,"f":4.18,"s":"OGRSDM-γ"},{"t":6.12,"f":4.1,"s":"OGRSDM-γ"},{"t":6.20,"f":4.05,"s":"OGRSDM-γ"},{"t":6.28,"f":4.0,"s":"OGRSDM-γ"}
]},
"encoding":{
"x":{"field":"t","type":"quantitative","scale":{"domain":[0,8],"nice":false,"zero":false},
"axis":{"values":[0,1,2,3,4,5,6,7,8],"labelExpr":"datum.value % 2 == 0 ? format(datum.value, '.1f') : ''","tickSize":{"condition":{"test":"datum.value % 2 == 0","value":15},"value":8},"labelPadding":9,"title":"θ","titleFontSize":26,"titlePadding":1}},
"y":{"field":"f","type":"quantitative","scale":{"domain":[-16,5],"nice":false,"zero":false},
"axis":{"values":[5,3.5,2,0.5,-1,-2.5,-4,-5.5,-7,-8.5,-10,-11.5,-13,-14.5,-16],"labelExpr":"abs((5 - datum.value) % 3) < 0.01 ? '' + datum.value : ''","tickSize":{"condition":{"test":"abs((5 - datum.value) % 3) < 0.01","value":15},"value":8},"labelPadding":7,"title":"f (θ)","titleFontStyle":"italic","titleFontSize":30,"titlePadding":18}},
"color":{"field":"s","type":"nominal","scale":{"domain":["OGRSDM-γ","Exact"],"range":["#ff0000","#000000"]},
"legend":{"title":null,"orient":"none","legendX":324,"legendY":590,"direction":"vertical","strokeColor":"black","cornerRadius":8,"padding":5,"fillColor":"white","labelFont":"Liberation Serif","labelFontSize":15,"labelColor":"black","symbolType":"M-2.6,0H2.6","symbolSize":400,"symbolStrokeWidth":1.5,"symbolOffset":16,"labelOffset":30,"rowPadding":6}},
"strokeDash":{"field":"s","type":"nominal","scale":{"domain":["OGRSDM-γ","Exact"],"range":[[7,4],[1,0]]},"legend":{"title":null}}
},
"layer":[
{"transform":[{"filter":"datum.s == 'Exact'"}],"mark":{"type":"line","strokeWidth":1.2,"interpolate":"monotone"}},
{"transform":[{"filter":"datum.s != 'Exact'"}],"mark":{"type":"line","strokeWidth":1.3,"interpolate":"monotone"}}
]
}
]
}
